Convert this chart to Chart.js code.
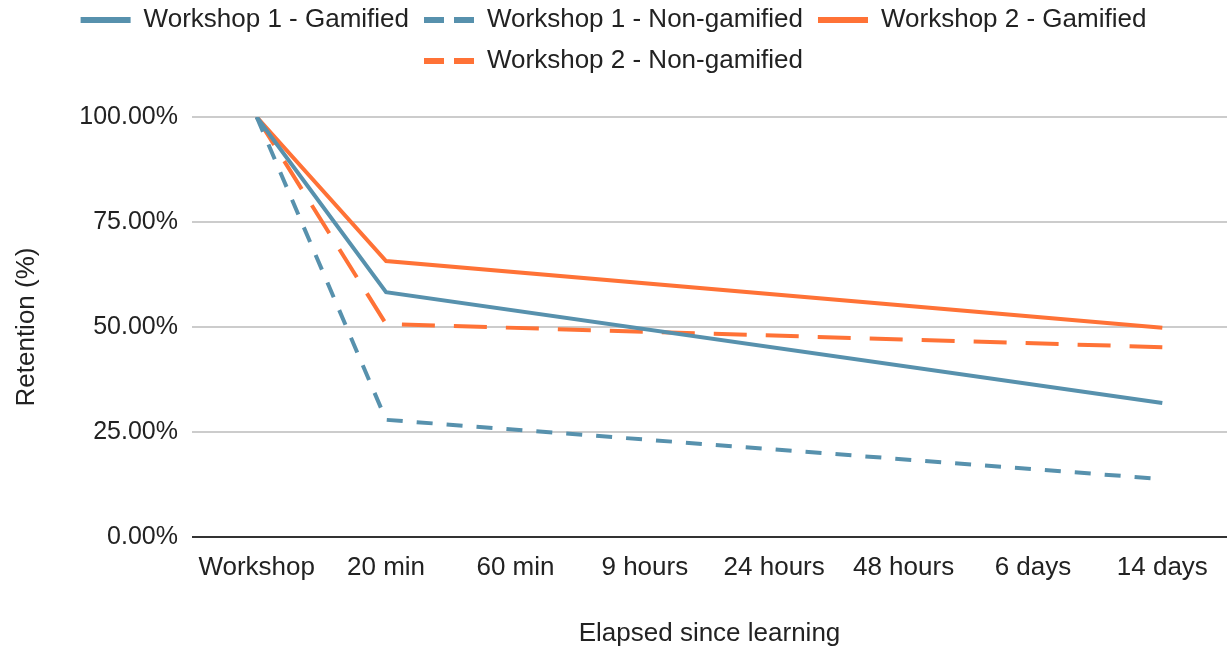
<!DOCTYPE html>
<html>
<head>
<meta charset="utf-8">
<script src="https://cdn.jsdelivr.net/npm/chart.js@4.4.1/dist/chart.umd.min.js"></script>
<style>
  html, body { margin: 0; padding: 0; background: #ffffff; }
  #wrap { width: 1227px; height: 649px; }
</style>
</head>
<body>
<div id="wrap"><canvas id="retentionChart"></canvas></div>
<script>
// categories on the x axis
const elapsedLabels = ["Workshop", "20 min", "60 min", "9 hours", "24 hours", "48 hours", "6 days", "14 days"];

// retention values (%) - only measured at workshop, 20 min and 14 days
const w1Gamified    = [100, 58.3, null, null, null, null, null, 31.9];
const w1NonGamified = [100, 27.9, null, null, null, null, null, 13.8];
const w2Gamified    = [100, 65.7, null, null, null, null, null, 49.8];
const w2NonGamified = [100, 50.7, null, null, null, null, null, 45.2];

const yTicks = [0, 25, 50, 75, 100];

const blue = "#5791ad";
const orange = "#ff7236";
const fontFamily = "'Liberation Sans', Arial, sans-serif";

// make some room under the legend
const legendGap = {
    id: "legendGap",
    beforeInit(chart) {
        const origFit = chart.legend.fit;
        chart.legend.fit = function () {
            origFit.bind(chart.legend)();
            this.height += 33;
        };
    }
};

document.addEventListener("DOMContentLoaded", () => {
    const ctx = document.getElementById("retentionChart").getContext("2d");

    new Chart(ctx, {
        type: "line",
        data: {
            labels: elapsedLabels,
            datasets: [
                { label: "Workshop 1 - Gamified", data: w1Gamified, borderColor: blue, backgroundColor: blue, borderDash: [] },
                { label: "Workshop 1 - Non-gamified", data: w1NonGamified, borderColor: blue, backgroundColor: blue, borderDash: [16, 14] },
                { label: "Workshop 2 - Gamified", data: w2Gamified, borderColor: orange, backgroundColor: orange, borderDash: [] },
                { label: "Workshop 2 - Non-gamified", data: w2NonGamified, borderColor: orange, backgroundColor: orange, borderDash: [33, 19] }
            ]
        },
        options: {
            responsive: true,
            maintainAspectRatio: false,
            animation: false,
            spanGaps: true,
            layout: { padding: { top: -8, right: 0, bottom: 0, left: 0 } },
            elements: {
                line: { borderWidth: 4, tension: 0, borderCapStyle: "butt" },
                point: { radius: 0, hoverRadius: 0 }
            },
            scales: {
                x: {
                    offset: true,
                    grid: { display: false, drawTicks: false, offset: true },
                    border: { display: false },
                    ticks: {
                        color: "#222222",
                        padding: 15,
                        maxRotation: 0,
                        autoSkip: false,
                        font: { family: fontFamily, size: 26 }
                    },
                    title: {
                        display: true,
                        text: "Elapsed since learning",
                        color: "#222222",
                        padding: { top: 0, bottom: 0 },
                        font: { family: fontFamily, size: 26 }
                    },
                    afterFit(scale) { scale.height = 112; }
                },
                y: {
                    min: 0,
                    max: 100,
                    afterBuildTicks(scale) {
                        scale.ticks = yTicks.map(v => ({ value: v }));
                    },
                    grid: {
                        drawTicks: false,
                        lineWidth: 2,
                        color: c => (c.tick && c.tick.value === 0 ? "#333333" : "#cccccc")
                    },
                    border: { display: false },
                    ticks: {
                        color: "#222222",
                        padding: 14,
                        font: { family: fontFamily, size: 25 },
                        callback: v => v.toFixed(2) + "%"
                    },
                    title: {
                        display: true,
                        text: "Retention (%)",
                        color: "#222222",
                        padding: { top: 11, bottom: 0 },
                        font: { family: fontFamily, size: 26 }
                    },
                    afterFit(scale) { scale.width = 192; }
                }
            },
            plugins: {
                legend: {
                    position: "top",
                    align: "center",
                    labels: {
                        color: "#222222",
                        font: { family: fontFamily, size: 26 },
                        usePointStyle: true,
                        pointStyleWidth: 50,
                        padding: 15,
                        generateLabels(chart) {
                            return chart.data.datasets.map((ds, i) => ({
                                text: ds.label,
                                fillStyle: ds.borderColor,
                                strokeStyle: ds.borderColor,
                                lineWidth: 6,
                                lineDash: ds.borderDash.length ? [20, 10] : [],
                                lineCap: "butt",
                                pointStyle: "line",
                                fontColor: "#222222",
                                hidden: !chart.isDatasetVisible(i),
                                datasetIndex: i
                            }));
                        }
                    }
                },
                tooltip: { enabled: false }
            }
        },
        plugins: [legendGap]
    });
});
</script>
</body>
</html>
